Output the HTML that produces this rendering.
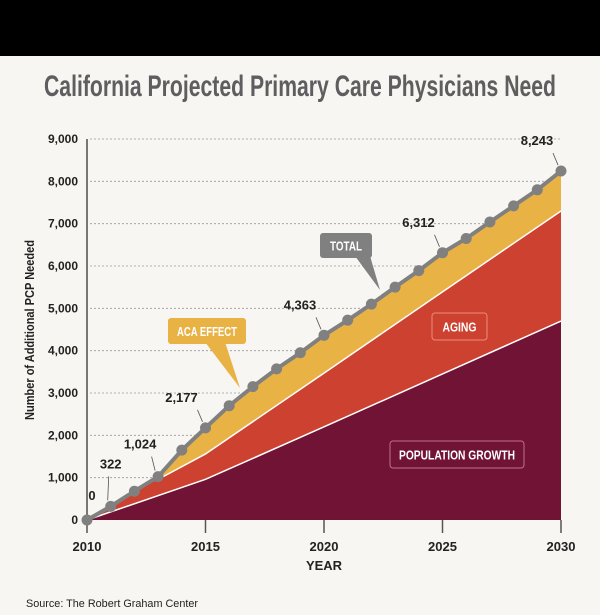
<!DOCTYPE html>
<html><head><meta charset="utf-8"><style>
html,body{margin:0;padding:0;background:#f7f6f2;}
svg{display:block;font-family:"Liberation Sans",sans-serif;}
</style></head><body>
<svg width="600" height="615" viewBox="0 0 600 615">
<rect x="0" y="0" width="600" height="56" fill="#000"/>
<text x="300" y="96" text-anchor="middle" font-size="30" font-weight="bold" fill="#5e5e60" textLength="512" lengthAdjust="spacingAndGlyphs">California Projected Primary Care Physicians Need</text>
<g id="grid"></g>
<g id="areas"></g>
<g id="axes"></g>
<g id="line"></g>
<g id="labels"></g>
<text x="34" y="330" transform="rotate(-90 34 330)" text-anchor="middle" font-size="13" font-weight="bold" fill="#222" textLength="180" lengthAdjust="spacingAndGlyphs">Number of Additional PCP Needed</text>
<text x="324" y="570" text-anchor="middle" font-size="13" font-weight="bold" fill="#222">YEAR</text>
<text x="26" y="607" font-size="11" fill="#222" textLength="172" lengthAdjust="spacingAndGlyphs">Source: The Robert Graham Center</text>
</svg>
<script>
const years=[2010,2011,2012,2013,2014,2015,2016,2017,2018,2019,2020,2021,2022,2023,2024,2025,2026,2027,2028,2029,2030];
const totalValues=[0,322,680,1024,1650,2177,2700,3150,3570,3950,4363,4720,5100,5500,5890,6312,6650,7040,7420,7800,8243];
const popYears=[2010,2015,2020,2025,2030];
const popValues=[0,960,2200,3450,4700];
const agingYears=[2010,2011,2012,2013,2015,2020,2025,2030];
const agingValues=[0,322,680,960,1560,3470,5390,7300];
const yTicks=[0,1000,2000,3000,4000,5000,6000,7000,8000,9000];
const yTickLabels=["0","1,000","2,000","3,000","4,000","5,000","6,000","7,000","8,000","9,000"];
const xTicks=[2010,2015,2020,2025,2030];
const labeled=[{y:2010,t:"0",dx:5,dy:-20},{y:2011,t:"322",dx:0,dy:-38},{y:2013,t:"1,024",dx:-18,dy:-28},{y:2015,t:"2,177",dx:-24,dy:-26},{y:2020,t:"4,363",dx:-24,dy:-26},{y:2025,t:"6,312",dx:-24,dy:-26},{y:2030,t:"8,243",dx:-24,dy:-26}];
const X=v=>87+(v-2010)*(561-87)/20;
const Y=v=>520-v*(520-139)/9000;
const NS="http://www.w3.org/2000/svg";
function mk(tag,attrs,parent){const e=document.createElementNS(NS,tag);for(const k in attrs)e.setAttribute(k,attrs[k]);document.getElementById(parent).appendChild(e);return e;}
yTicks.forEach((t,i)=>{
 if(t>0){const g=mk('line',{x1:90,x2:561,y1:Y(t),y2:Y(t),stroke:'#999','stroke-dasharray':'2,2','stroke-width':0.8},'grid');
 
 }
 const l=mk('text',{x:78,y:Y(t)+4,'text-anchor':'end','font-size':12,'font-weight':'bold',fill:'#222'},'axes');l.textContent=yTickLabels[i];
 
 
});
function pts(xs,vs){return xs.map((x,i)=>X(x)+','+Y(vs[i])).join(' ');}
const aca=mk('polygon',{points:pts(years,totalValues)+' '+X(2030)+','+Y(0)+' '+X(2010)+','+Y(0),fill:'#e9b245'},'areas');


const ag=mk('polygon',{points:pts(agingYears,agingValues)+' '+X(2030)+','+Y(0)+' '+X(2010)+','+Y(0),fill:'#cc4130'},'areas');


const agl=mk('polyline',{points:pts(agingYears.slice(3),agingValues.slice(3)),fill:'none',stroke:'#fff','stroke-width':1.5},'areas');


const pp=mk('polygon',{points:pts(popYears,popValues)+' '+X(2030)+','+Y(0)+' '+X(2010)+','+Y(0),fill:'#711335'},'areas');


const ppl=mk('polyline',{points:pts(popYears,popValues),fill:'none',stroke:'#fff','stroke-width':1.5},'areas');


const ya=mk('line',{x1:87,x2:87,y1:139,y2:522,stroke:'#777','stroke-width':2},'axes');


xTicks.forEach(t=>{
 const tk=mk('line',{x1:X(t),x2:X(t),y1:520,y2:533,stroke:'#555','stroke-width':1.5},'axes');
 
 
 const l=mk('text',{x:X(t),y:551,'text-anchor':'middle','font-size':13,'font-weight':'bold',fill:'#222'},'axes');l.textContent=t;
 
 
});
const tl=mk('polyline',{points:pts(years,totalValues),fill:'none',stroke:'#808080','stroke-width':4},'line');


years.forEach((y,i)=>{const c=mk('circle',{cx:X(y),cy:Y(totalValues[i]),r:5.5,fill:'#808080'},'line');
 
 });
labeled.forEach(o=>{const v=totalValues[years.indexOf(o.y)];const px=X(o.y),py=Y(v);
 if(o.y!==2010){const ln=mk('line',{x1:px+o.dx*0.25-2,y1:py+o.dy+8,x2:px-3,y2:py-6,stroke:'#555','stroke-width':0.8},'labels');
 
 }
 const t=mk('text',{x:px+o.dx,y:py+o.dy,'text-anchor':'middle','font-size':13,'font-weight':'bold',fill:'#222'},'labels');t.textContent=o.t;
 
 });
function callout(name,x,y,w,h,fill,stroke,txt,tw,tail){
 if(tail){const p=mk('polygon',{points:tail,fill:fill},'labels');}
 const r=mk('rect',{x:x,y:y,width:w,height:h,rx:3,fill:fill,stroke:stroke,'stroke-width':1},'labels');
 
 
 const t=mk('text',{x:x+w/2,y:y+h/2+5,'text-anchor':'middle','font-size':13,'font-weight':'bold',fill:'#fff',textLength:tw,lengthAdjust:'spacingAndGlyphs'},'labels');t.textContent=txt;
 
 }
callout('aca-effect-callout',168,318,78,26,'#e9b245','none','ACA EFFECT',60,'205,342 225,342 240,388');
callout('total-callout',320,233,52,25,'#808080','none','TOTAL',32,'355,256 370,256 380,290');
callout('aging-callout',432,313,55,27,'none','#f08a7a','AGING',34,null);
callout('population-growth-callout',390,441,134,27,'none','#c07090','POPULATION GROWTH',116,null);
</script>
</body></html>
